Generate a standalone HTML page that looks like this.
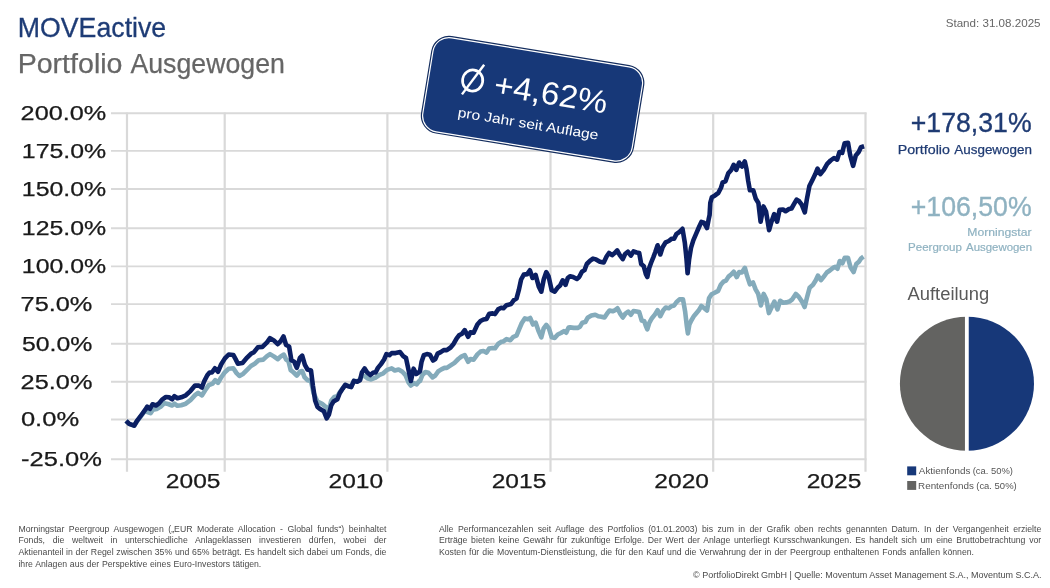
<!DOCTYPE html>
<html><head><meta charset="utf-8"><title>MOVEactive Portfolio Ausgewogen</title>
<style>
html,body{margin:0;padding:0;background:#fff;}
body{width:1050px;height:588px;overflow:hidden;position:relative;font-family:"Liberation Sans",sans-serif;}
svg{position:absolute;left:0;top:0;will-change:transform;}
svg text{font-family:"Liberation Sans",sans-serif;}
.ft{position:absolute;font-size:8.2px;line-height:11.55px;color:#4a4a4a;white-space:normal;will-change:transform;}
.ft div{text-align:justify;text-align-last:justify;height:11.55px;white-space:nowrap;}
.ft div.last{text-align-last:left;}
</style></head><body>
<svg width="1050" height="588" viewBox="0 0 1050 588">
<g stroke="#d9d9d9" fill="none"><g stroke-width="1.9"><line x1="111" x2="866.5" y1="459.2" y2="459.2"/><line x1="111" x2="866.5" y1="419.5" y2="419.5"/><line x1="111" x2="866.5" y1="381.8" y2="381.8"/><line x1="111" x2="866.5" y1="343.8" y2="343.8"/><line x1="111" x2="866.5" y1="304.1" y2="304.1"/><line x1="111" x2="866.5" y1="266.4" y2="266.4"/><line x1="111" x2="866.5" y1="228.3" y2="228.3"/><line x1="111" x2="866.5" y1="189.0" y2="189.0"/><line x1="111" x2="866.5" y1="150.9" y2="150.9"/><line x1="111" x2="866.5" y1="113.2" y2="113.2"/></g><g stroke-width="2.2"><line x1="127.0" x2="127.0" y1="112.4" y2="471.8"/><line x1="224.7" x2="224.7" y1="112.4" y2="471.8"/><line x1="387.4" x2="387.4" y1="112.4" y2="471.8"/><line x1="550.5" x2="550.5" y1="112.4" y2="471.8"/><line x1="713.2" x2="713.2" y1="112.4" y2="471.8"/><line x1="865.5" x2="865.5" y1="112.4" y2="471.8"/></g></g>
<g fill="#1a1a1a" stroke="#1a1a1a" stroke-width="0.25"><text x="20.63" y="120.0" font-size="19.5" textLength="85.57" lengthAdjust="spacingAndGlyphs">200.0%</text><text x="21.80" y="157.7" font-size="19.5" textLength="84.38" lengthAdjust="spacingAndGlyphs">175.0%</text><text x="21.80" y="195.8" font-size="19.5" textLength="84.38" lengthAdjust="spacingAndGlyphs">150.0%</text><text x="21.80" y="235.1" font-size="19.5" textLength="84.38" lengthAdjust="spacingAndGlyphs">125.0%</text><text x="21.80" y="273.2" font-size="19.5" textLength="84.38" lengthAdjust="spacingAndGlyphs">100.0%</text><text x="20.60" y="310.9" font-size="19.5" textLength="71.80" lengthAdjust="spacingAndGlyphs">75.0%</text><text x="22.01" y="350.6" font-size="19.5" textLength="70.38" lengthAdjust="spacingAndGlyphs">50.0%</text><text x="20.63" y="388.6" font-size="19.5" textLength="71.78" lengthAdjust="spacingAndGlyphs">25.0%</text><text x="20.90" y="426.3" font-size="19.5" textLength="58.21" lengthAdjust="spacingAndGlyphs">0.0%</text><text x="21.07" y="466.0" font-size="19.5" textLength="80.84" lengthAdjust="spacingAndGlyphs">-25.0%</text><text x="165.86" y="487.9" font-size="20.5" textLength="54.67" lengthAdjust="spacingAndGlyphs">2005</text><text x="328.57" y="487.9" font-size="20.5" textLength="54.59" lengthAdjust="spacingAndGlyphs">2010</text><text x="491.66" y="487.9" font-size="20.5" textLength="54.67" lengthAdjust="spacingAndGlyphs">2015</text><text x="654.37" y="487.9" font-size="20.5" textLength="54.59" lengthAdjust="spacingAndGlyphs">2020</text><text x="806.66" y="487.9" font-size="20.5" textLength="54.67" lengthAdjust="spacingAndGlyphs">2025</text></g>
<path d="M126.1,420.8 L129.2,423.9 L134.1,425.7 L136.8,421.5 L141.4,415.6 L145.3,410.4 L147.6,412.0 L150.6,413.2 L152.9,409.7 L156.7,408.9 L160.6,406.8 L164.4,403.2 L168.2,404.0 L172.1,405.5 L174.4,403.7 L177.4,405.8 L181.2,405.2 L185.8,403.7 L190.4,400.2 L195.0,395.1 L198.1,392.8 L201.9,395.4 L205.0,390.5 L208.8,385.2 L212.6,383.6 L215.2,380.1 L218.0,382.9 L221.1,377.5 L224.9,372.2 L228.7,368.8 L233.3,368.3 L236.4,372.9 L239.4,376.0 L243.3,373.7 L247.1,369.9 L250.9,366.0 L254.7,363.7 L258.6,360.2 L263.2,359.6 L267.0,356.1 L270.0,354.1 L273.8,356.4 L277.7,359.2 L280.7,356.4 L283.8,354.6 L286.1,359.5 L288.4,361.0 L290.7,370.2 L293.7,372.5 L296.8,375.6 L299.9,371.7 L302.2,371.0 L304.5,377.1 L307.5,380.2 L311.0,380.9 L313.6,393.2 L317.5,401.6 L322.1,403.9 L325.9,407.0 L327.9,410.0 L330.0,405.4 L331.2,400.8 L334.3,397.0 L337.4,396.2 L339.7,392.4 L342.7,388.3 L345.3,384.8 L348.1,385.8 L351.2,386.3 L353.9,380.9 L357.3,381.2 L360.0,379.7 L361.9,375.1 L364.9,376.3 L368.0,378.6 L371.1,379.4 L375.6,377.6 L379.5,374.8 L383.3,373.3 L387.1,369.9 L391.7,368.4 L394.8,370.5 L398.6,369.5 L402.4,371.7 L405.5,375.1 L408.6,382.5 L410.9,385.5 L413.9,383.2 L416.7,384.3 L419.3,380.9 L420.0,381.2 L422.3,375.1 L425.4,372.0 L428.4,372.8 L432.6,377.4 L435.3,375.5 L438.4,371.2 L441.4,369.4 L444.5,367.9 L446.8,367.9 L450.6,365.4 L454.5,362.8 L458.3,359.0 L461.3,356.7 L464.7,355.2 L468.2,361.8 L470.5,359.0 L473.6,359.8 L477.4,354.4 L480.5,351.6 L483.5,351.0 L486.6,352.6 L489.2,348.6 L492.7,348.0 L495.0,348.3 L498.1,344.0 L501.2,341.8 L503.4,341.4 L506.5,339.1 L510.3,340.3 L513.4,336.8 L516.5,335.7 L519.2,329.1 L521.8,323.0 L524.9,318.4 L527.9,319.2 L530.2,318.0 L533.0,324.5 L535.6,322.6 L538.7,331.4 L541.3,337.3 L543.7,328.4 L546.3,324.9 L548.9,328.4 L551.7,337.3 L554.7,337.9 L557.8,334.5 L560.9,333.0 L563.9,331.1 L566.2,332.7 L568.5,327.6 L570.0,327.4 L573.8,327.9 L577.7,327.9 L580.0,326.7 L582.2,322.8 L585.3,322.1 L587.6,317.8 L591.4,315.6 L595.3,314.7 L598.3,316.2 L601.4,316.7 L604.5,317.5 L607.5,312.9 L609.5,310.6 L612.6,311.3 L615.2,310.1 L617.5,308.3 L620.2,313.6 L622.8,317.5 L625.4,313.6 L628.2,311.6 L630.9,314.7 L633.5,311.0 L636.6,311.6 L639.2,312.1 L641.7,320.5 L644.3,321.3 L645.8,325.9 L647.3,329.4 L649.3,322.8 L651.9,318.2 L655.0,314.4 L657.6,310.1 L660.3,316.2 L663.1,310.6 L665.7,307.5 L668.8,308.3 L671.1,306.4 L674.1,305.5 L676.4,302.2 L679.5,299.4 L683.0,299.4 L685.1,311.3 L686.7,325.1 L687.9,333.5 L689.4,324.4 L691.3,320.5 L694.0,315.9 L696.3,313.2 L698.6,310.6 L701.4,306.0 L704.0,308.0 L707.0,310.6 L709.0,298.3 L711.6,294.2 L714.7,292.7 L718.1,290.9 L720.8,284.8 L723.4,281.7 L726.0,280.6 L728.5,276.6 L731.1,274.5 L733.7,271.7 L736.7,277.1 L739.2,272.1 L741.8,272.5 L744.9,267.9 L747.2,276.3 L749.9,284.3 L753.0,282.5 L755.6,289.4 L758.2,293.9 L760.9,305.4 L763.7,293.9 L766.3,299.3 L768.9,313.1 L771.7,307.0 L774.4,301.6 L777.5,309.3 L780.1,300.8 L783.1,302.7 L786.2,302.4 L789.3,301.6 L792.3,299.3 L795.8,293.9 L798.9,297.0 L802.0,301.6 L804.6,307.0 L806.9,297.8 L809.6,287.8 L813.0,284.8 L815.8,280.2 L817.9,275.6 L821.0,280.2 L824.0,276.3 L826.8,272.5 L829.8,270.5 L832.9,267.9 L835.2,266.8 L837.5,268.7 L839.8,261.0 L842.4,263.3 L844.8,257.7 L847.9,257.7 L850.5,267.2 L853.6,272.1 L856.2,264.1 L858.9,261.8 L861.2,258.3 L863.5,256.7" fill="none" stroke="#84abbb" stroke-width="4.6" stroke-linejoin="round" stroke-linecap="butt"/>
<path d="M126.1,420.8 L129.2,423.9 L134.1,425.7 L136.8,421.2 L141.4,415.0 L145.3,409.7 L147.3,406.6 L149.9,408.9 L152.5,404.3 L156.0,405.5 L159.0,403.4 L162.1,399.6 L165.9,397.0 L169.0,397.3 L172.1,399.3 L174.4,396.2 L177.4,398.3 L181.2,397.3 L185.8,395.3 L190.4,391.1 L195.0,385.6 L198.9,385.6 L201.9,387.5 L204.2,381.3 L207.3,375.2 L209.6,372.5 L211.9,372.5 L214.9,368.3 L218.0,371.8 L221.1,364.5 L224.9,358.4 L228.7,354.5 L233.3,355.0 L235.6,359.1 L237.9,363.7 L242.5,363.0 L247.1,357.6 L250.9,353.8 L254.0,352.2 L257.8,347.3 L262.4,346.9 L267.0,342.3 L270.0,338.1 L273.8,340.4 L277.7,344.2 L280.7,341.1 L283.5,336.5 L286.1,345.0 L289.1,346.5 L291.4,360.3 L294.2,361.8 L296.8,367.9 L299.9,358.0 L302.2,355.7 L304.9,364.9 L307.5,369.5 L311.0,370.5 L312.9,385.5 L315.2,400.8 L317.5,407.0 L320.5,409.3 L323.9,411.3 L326.7,418.4 L328.9,414.6 L331.2,405.4 L333.5,401.6 L337.4,399.3 L339.7,393.2 L342.7,388.6 L345.3,384.8 L348.1,386.3 L351.2,387.1 L353.9,380.9 L357.3,381.7 L360.0,380.2 L361.9,372.5 L364.6,368.4 L367.2,372.5 L370.3,375.1 L373.4,372.5 L375.6,372.5 L377.9,367.9 L381.0,364.1 L384.1,359.5 L386.4,354.1 L389.4,355.2 L391.7,353.1 L395.6,353.1 L400.1,352.1 L403.2,356.1 L406.0,358.0 L408.6,370.2 L410.9,380.9 L413.6,368.7 L416.2,374.0 L418.5,372.5 L420.0,371.2 L421.5,362.1 L423.8,355.2 L426.9,354.1 L430.0,354.7 L433.0,360.5 L435.3,359.0 L437.6,353.6 L440.7,352.1 L443.7,350.1 L446.8,350.1 L450.6,347.5 L453.7,343.7 L456.7,338.3 L459.0,335.3 L462.1,333.7 L464.7,330.2 L468.2,336.8 L470.5,332.2 L473.6,332.7 L477.4,324.5 L480.5,321.0 L483.5,319.5 L486.6,318.9 L489.2,313.8 L492.7,313.4 L495.0,314.1 L498.1,309.4 L501.2,307.8 L503.4,308.3 L506.5,305.2 L511.1,304.0 L513.7,300.2 L516.5,298.6 L518.8,290.2 L521.1,279.5 L523.8,274.6 L527.2,274.1 L529.9,270.3 L532.5,278.0 L535.6,274.9 L538.7,286.4 L541.3,291.7 L543.7,279.5 L546.3,272.1 L548.6,276.4 L551.7,290.2 L554.7,291.7 L557.8,287.5 L560.1,285.6 L562.7,280.3 L565.5,284.9 L567.8,278.0 L570.0,276.2 L573.1,277.0 L576.9,279.0 L579.2,277.0 L581.9,271.7 L584.5,270.1 L586.8,264.0 L589.9,260.9 L593.0,258.6 L596.0,259.4 L599.9,261.7 L603.7,262.5 L606.7,256.3 L609.0,253.0 L612.1,255.1 L614.4,253.3 L617.2,250.5 L619.8,255.1 L622.8,259.1 L625.1,254.0 L627.9,251.7 L630.9,255.6 L633.5,251.4 L636.6,252.5 L639.2,253.0 L641.2,264.0 L643.8,266.3 L645.8,273.9 L647.3,277.0 L649.3,267.8 L651.2,262.5 L653.4,257.1 L655.4,251.7 L657.6,245.3 L660.3,254.5 L662.6,247.2 L665.7,242.3 L668.8,241.0 L671.8,238.7 L674.1,238.7 L676.4,234.1 L679.5,231.8 L682.5,228.8 L684.8,242.6 L686.4,257.9 L687.6,273.2 L689.1,259.4 L691.0,247.9 L693.3,240.3 L696.3,233.4 L698.6,228.0 L701.4,221.9 L704.0,222.7 L707.0,228.0 L708.6,219.6 L709.6,215.0 L710.3,202.9 L711.9,197.2 L715.0,195.4 L718.4,192.8 L721.0,187.7 L722.7,182.3 L725.5,181.3 L728.3,173.3 L731.2,169.9 L733.7,164.8 L736.3,169.9 L739.1,162.5 L741.9,166.5 L744.8,161.4 L746.5,169.0 L748.2,180.9 L749.9,190.3 L753.3,190.3 L755.8,198.8 L758.4,203.0 L760.6,221.7 L763.5,206.4 L766.0,211.5 L769.1,230.2 L771.5,221.7 L774.2,214.1 L777.1,221.7 L779.6,209.8 L783.0,209.5 L785.6,211.2 L789.0,209.0 L791.5,208.5 L794.1,203.9 L796.6,199.6 L799.2,201.3 L801.7,204.7 L804.8,212.4 L806.8,199.6 L809.4,186.0 L812.8,179.2 L815.3,174.1 L817.5,168.7 L820.4,174.1 L823.8,169.9 L827.2,163.9 L830.6,160.5 L834.0,158.0 L837.1,159.7 L839.5,152.0 L842.2,152.9 L844.6,143.2 L848.0,142.7 L850.2,155.4 L853.1,165.9 L855.8,155.4 L858.7,152.0 L860.9,147.2 L864.1,146.2" fill="none" stroke="#0b1f63" stroke-width="4.6" stroke-linejoin="round" stroke-linecap="butt"/>

<g transform="translate(532.6 99.35) rotate(9.3)">
<rect x="-107.9" y="-49.45" width="215.8" height="98.9" rx="18" fill="#142d5e"/>
<rect x="-106.7" y="-48.25" width="213.4" height="96.5" rx="16.8" fill="#fff"/>
<rect x="-105.5" y="-47.05" width="211" height="94.1" rx="15.6" fill="#173878"/>
<ellipse cx="-62.2" cy="-8.9" rx="10.1" ry="10.6" fill="none" stroke="#fff" stroke-width="2.7"/>
<line x1="-70.5" y1="6.5" x2="-53.4" y2="-26.4" stroke="#fff" stroke-width="2.4"/>
<text x="-40.08" y="2.2" font-size="32" fill="#fff" textLength="114.38" lengthAdjust="spacingAndGlyphs">+4,62%</text>
<text x="-71.60" y="29.3" font-size="13.5" fill="#fff" textLength="142.35" lengthAdjust="spacingAndGlyphs">pro Jahr seit Auflage</text>
</g>

<text x="17.81" y="36.9" font-size="27.6" fill="#1e3c76" textLength="148.38" lengthAdjust="spacingAndGlyphs" stroke="#1e3c76" stroke-width="0.3">MOVEactive</text>
<text x="17.66" y="73.0" font-size="27" fill="#666" textLength="104.84" lengthAdjust="spacingAndGlyphs" stroke="#666" stroke-width="0.25">Portfolio</text>
<text x="130.45" y="73.0" font-size="27" fill="#666" textLength="154.49" lengthAdjust="spacingAndGlyphs" stroke="#666" stroke-width="0.25">Ausgewogen</text>
<text x="945.67" y="27.0" font-size="11.4" fill="#666" textLength="94.91" lengthAdjust="spacingAndGlyphs">Stand: 31.08.2025</text>
<text x="910.80" y="131.5" font-size="27" fill="#1f3b73" textLength="120.85" lengthAdjust="spacingAndGlyphs" stroke="#1f3b73" stroke-width="0.35">+178,31%</text>
<text x="897.73" y="153.9" font-size="13" fill="#1f3b73" textLength="52.16" lengthAdjust="spacingAndGlyphs" stroke="#1f3b73" stroke-width="0.25">Portfolio</text>
<text x="954.27" y="153.9" font-size="13" fill="#1f3b73" textLength="77.70" lengthAdjust="spacingAndGlyphs" stroke="#1f3b73" stroke-width="0.25">Ausgewogen</text>
<text x="910.80" y="215.7" font-size="27" fill="#8fb2c1" textLength="120.85" lengthAdjust="spacingAndGlyphs" stroke="#8fb2c1" stroke-width="0.35">+106,50%</text>
<text x="967.30" y="236.1" font-size="11.5" fill="#8fb2c1" textLength="64.20" lengthAdjust="spacingAndGlyphs" stroke="#8fb2c1" stroke-width="0.2">Morningstar</text>
<text x="908.05" y="251.2" font-size="11.5" fill="#8fb2c1" textLength="53.83" lengthAdjust="spacingAndGlyphs" stroke="#8fb2c1" stroke-width="0.2">Peergroup</text>
<text x="966.08" y="251.2" font-size="11.5" fill="#8fb2c1" textLength="65.96" lengthAdjust="spacingAndGlyphs" stroke="#8fb2c1" stroke-width="0.2">Ausgewogen</text>
<text x="907.56" y="299.5" font-size="17.5" fill="#595959" textLength="81.72" lengthAdjust="spacingAndGlyphs">Aufteilung</text>
<text x="918.84" y="473.9" font-size="9" fill="#555" textLength="51.52" lengthAdjust="spacingAndGlyphs">Aktienfonds</text>
<text x="972.70" y="473.9" font-size="9" fill="#555" textLength="15.73" lengthAdjust="spacingAndGlyphs">(ca.</text>
<text x="991.05" y="473.9" font-size="9" fill="#555" textLength="21.96" lengthAdjust="spacingAndGlyphs">50%)</text>
<text x="918.05" y="488.7" font-size="9" fill="#555" textLength="55.88" lengthAdjust="spacingAndGlyphs">Rentenfonds</text>
<text x="976.27" y="488.7" font-size="9" fill="#555" textLength="15.73" lengthAdjust="spacingAndGlyphs">(ca.</text>
<text x="994.62" y="488.7" font-size="9" fill="#555" textLength="22.11" lengthAdjust="spacingAndGlyphs">50%)</text>
<g font-size="8.7" fill="#4a4a4a" style="white-space:pre"><text x="18.45" y="531.8" font-size="8.7" style="word-spacing:2.149px">Morningstar Peergroup Ausgewogen („EUR Moderate Allocation - Global funds“) beinhaltet</text>
<text x="18.45" y="543.4" font-size="8.7" style="word-spacing:5.264px">Fonds, die weltweit in unterschiedliche Anlageklassen investieren dürfen, wobei der</text>
<text x="18.45" y="555.0" font-size="8.7" style="word-spacing:0.321px">Aktienanteil in der Regel zwischen 35% und 65% beträgt. Es handelt sich dabei um Fonds, die</text>
<text x="18.45" y="566.5" font-size="8.7" style="word-spacing:0.337px">ihre Anlagen aus der Perspektive eines Euro-Investors tätigen.</text>
<text x="438.95" y="531.8" font-size="8.7" style="word-spacing:2.038px">Alle Performancezahlen seit Auflage des Portfolios (01.01.2003) bis zum in der Grafik oben rechts genannten Datum. In der Vergangenheit erzielte</text>
<text x="438.95" y="543.4" font-size="8.7" style="word-spacing:1.283px">Erträge bieten keine Gewähr für zukünftige Erfolge. Der Wert der Anlage unterliegt Kursschwankungen. Es handelt sich um eine Bruttobetrachtung vor</text>
<text x="438.95" y="555.0" font-size="8.7" style="word-spacing:0.694px">Kosten für die Moventum-Dienstleistung, die für den Kauf und die Verwahrung der in der Peergroup enthaltenen Fonds anfallen können.</text>
<text x="693.10" y="577.9" font-size="9.0" style="word-spacing:-0.070px">© PortfolioDirekt GmbH | Quelle: Moventum Asset Management S.A., Moventum S.C.A.</text>
</g>

<path d="M966.95,316.65 A67.05,67.05 0 0 1 966.95,450.75 Z" fill="#173879"/>
<path d="M966.95,316.65 A67.05,67.05 0 0 0 966.95,450.75 Z" fill="#636361"/>
<line x1="966.85" x2="966.85" y1="315" y2="452" stroke="#fff" stroke-width="3.8"/>
<rect x="907.2" y="466.4" width="9" height="8.9" fill="#173879"/>
<rect x="907.2" y="481" width="9" height="8.9" fill="#636361"/>
</svg>

</body></html>
